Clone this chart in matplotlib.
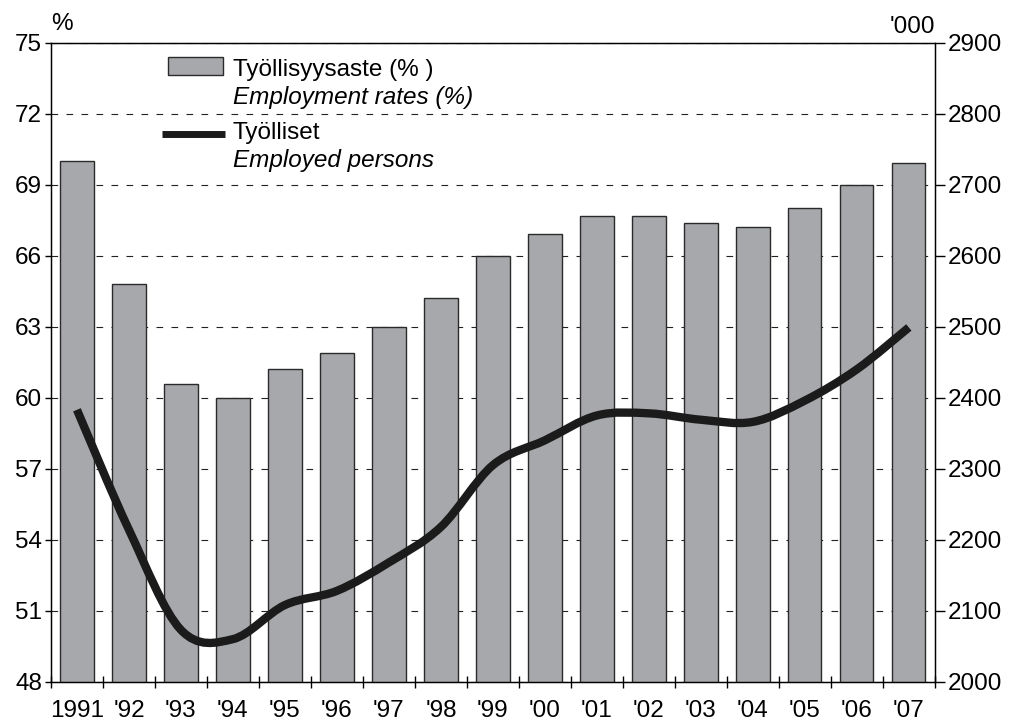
import numpy as np
import matplotlib.pyplot as plt
from matplotlib.path import Path
from matplotlib.patches import PathPatch, Rectangle
from matplotlib.lines import Line2D

# =====================================================
# データ
# =====================================================
years = ["1991", "'92", "'93", "'94", "'95", "'96", "'97", "'98", "'99",
         "'00", "'01", "'02", "'03", "'04", "'05", "'06", "'07"]
rate = [70.0, 64.8, 60.6, 60.0, 61.2, 61.9, 63.0, 64.2, 66.0,
        66.9, 67.7, 67.7, 67.4, 67.2, 68.0, 69.0, 69.9]          # %
employed = [2383, 2214, 2073, 2060, 2108, 2128, 2168, 2218, 2305,
            2340, 2375, 2378, 2369, 2366, 2396, 2440, 2499]     # '000

BAR_COLOR = "#a7a8ab"
EDGE_COLOR = "#2a2a2a"
LINE_COLOR = "#1b1b1b"
FS = 17.5

plt.rcParams["font.family"] = ["Liberation Sans", "DejaVu Sans"]


def smooth_path(xs, ys):
    """データ点を通る滑らかな曲線(Catmull-Rom → Bezier)"""
    pts = np.column_stack([xs, ys]).astype(float)
    ext = np.vstack([pts[0], pts, pts[-1]])
    verts = [tuple(pts[0])]
    codes = [Path.MOVETO]
    for i in range(1, len(ext) - 2):
        p0, p1, p2, p3 = ext[i - 1], ext[i], ext[i + 1], ext[i + 2]
        c1 = p1 + (p2 - p0) / 6
        c2 = p2 - (p3 - p1) / 6
        verts += [tuple(c1), tuple(c2), tuple(p2)]
        codes += [Path.CURVE4] * 3
    return Path(verts, codes)


fig = plt.figure(figsize=(10.09, 7.22), dpi=100)
ax = fig.add_axes([0.0505, 0.0558, 0.876, 0.885])

x = np.arange(len(years))

# -------------------------------
# 棒グラフ(左軸)
# -------------------------------
ax.bar(x, rate, width=0.64, color=BAR_COLOR, edgecolor=EDGE_COLOR,
       linewidth=1.0, zorder=2)
ax.set_ylim(48, 75)
ax.set_xlim(-0.5, len(years) - 0.5)
ax.set_yticks(np.arange(48, 76, 3))
ax.set_axisbelow(True)
ax.yaxis.grid(True, linestyle=(0, (6, 7.5)), color="#222222", linewidth=0.8)

ax.set_xticks(x)
ax.set_xticklabels(years)
ax.set_xticks(np.arange(-0.5, len(years), 1), minor=True)
ax.tick_params(axis="x", which="major", length=0, pad=13, labelsize=FS)
ax.tick_params(axis="x", which="minor", direction="inout", length=8, width=1)
ax.tick_params(axis="y", direction="out", length=4.5, width=1, pad=2,
               labelsize=FS)
for s in ax.spines.values():
    s.set_linewidth(1.0)

# -------------------------------
# 線グラフ(右軸)
# -------------------------------
ax2 = ax.twinx()
ax2.set_ylim(2000, 2900)
ax2.set_yticks(np.arange(2000, 2901, 100))
ax2.tick_params(axis="y", direction="out", length=7, width=1, pad=2,
                labelsize=FS)
ax2.add_patch(PathPatch(smooth_path(x, employed), facecolor="none",
                        edgecolor=LINE_COLOR, linewidth=6.0,
                        capstyle="butt", joinstyle="round", zorder=3))

# 単位
ax.text(0.0, 1.02, "%", transform=ax.transAxes, ha="left", va="baseline",
        fontsize=FS)
ax.text(1.0, 1.016, "'000", transform=ax.transAxes, ha="right",
        va="baseline", fontsize=FS)

# -------------------------------
# 凡例(手描き)
# -------------------------------
ax.add_patch(Rectangle((0.1324, 0.950), 0.0622, 0.028, transform=ax.transAxes,
                       facecolor=BAR_COLOR, edgecolor=EDGE_COLOR,
                       linewidth=1.0, zorder=5, clip_on=False))
ax.add_line(Line2D([0.1256, 0.1968], [0.8576, 0.8576], transform=ax.transAxes,
                   color=LINE_COLOR, linewidth=5.0, solid_capstyle="butt",
                   zorder=5))
tx = 0.2059
ax.text(tx, 0.9484, "Työllisyysaste (% )", transform=ax.transAxes,
        va="baseline", fontsize=FS, zorder=5)
ax.text(tx, 0.9045, "Employment rates (%)", transform=ax.transAxes,
        va="baseline", fontsize=FS, style="italic", zorder=5)
ax.text(tx, 0.8498, "Työlliset", transform=ax.transAxes,
        va="baseline", fontsize=FS, zorder=5)
ax.text(tx, 0.8059, "Employed persons", transform=ax.transAxes,
        va="baseline", fontsize=FS, style="italic", zorder=5)

fig.savefig("out.png", dpi=100)
